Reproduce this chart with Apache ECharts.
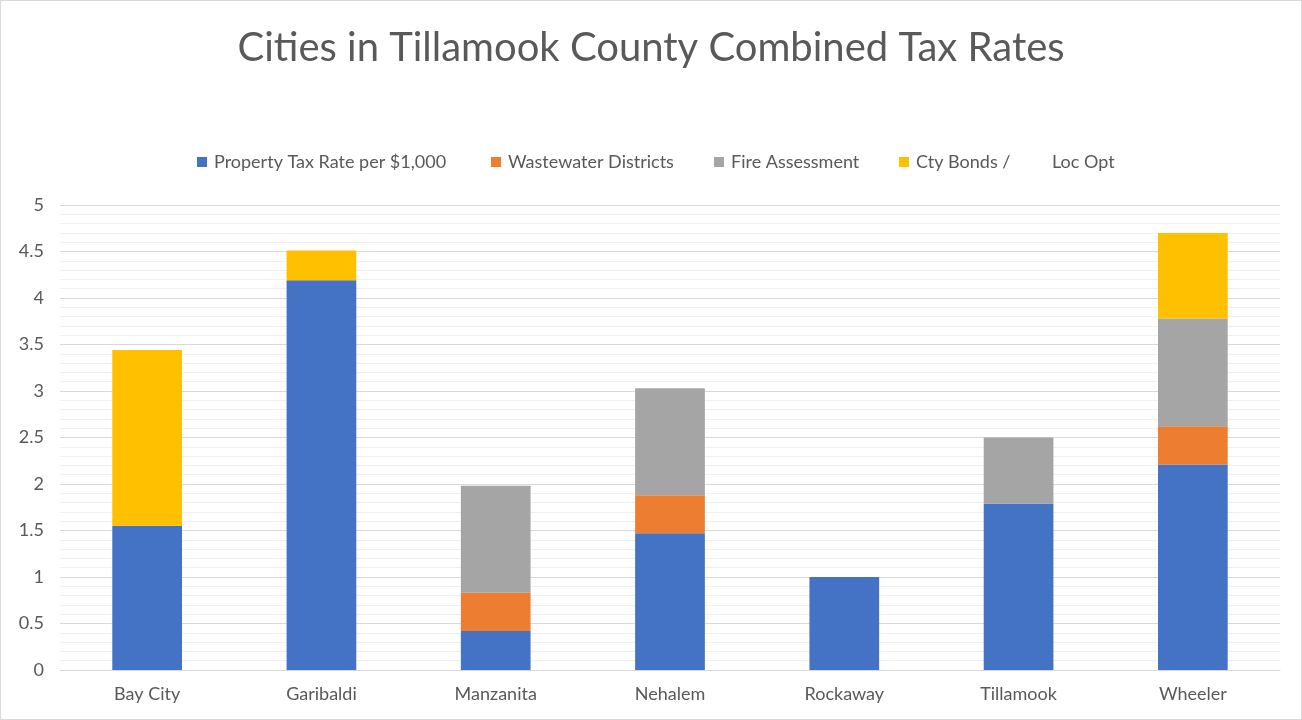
<!DOCTYPE html>
<html>
<head>
<meta charset="utf-8">
<script src="https://cdn.jsdelivr.net/npm/echarts@6/dist/echarts.min.js"></script>
<style>
  html, body { margin: 0; padding: 0; background: #fff; }
  #chart { width: 1300px; height: 718px; border: 1px solid #d9d9d9; }
</style>
</head>
<body>
<div id="chart"></div>
<script>
// Combined tax rates per $1,000 of assessed value, by city
const cities = ['Bay City', 'Garibaldi', 'Manzanita', 'Nehalem', 'Rockaway', 'Tillamook', 'Wheeler'];
const propertyTax = [1.55, 4.19, 0.42, 1.47, 1.0, 1.79, 2.21];
const wastewater  = [0, 0, 0.41, 0.41, 0, 0, 0.41];
const fireAssess  = [0, 0, 1.15, 1.15, 0, 0.71, 1.16];
const cityBonds   = [1.89, 0.32, 0, 0, 0, 0, 0.92];
const seriesNames = ['Property Tax Rate per $1,000', 'Wastewater Districts', 'Fire Assessment', 'Cty Bonds /         Loc Opt'];
const yTicks = [0, 0.5, 1, 1.5, 2, 2.5, 3, 3.5, 4, 4.5, 5];

const colors = ['#4472C4', '#ED7D31', '#A5A5A5', '#FFC000'];
const textColor = '#595959';
const font = 'Lato, "Open Sans", sans-serif';

const chart = echarts.init(document.getElementById('chart'));

// one legend block per series so each entry sits in its own column
const legendLefts = [191, 485, 708, 893];
const legends = seriesNames.map((n, i) => ({
  data: [n],
  left: legendLefts[i],
  top: 147,
  itemWidth: 10,
  itemHeight: 10,
  itemGap: 0,
  icon: 'rect',
  textStyle: { color: textColor, fontSize: 18, fontFamily: font, padding: [0, 0, 0, 2] },
  selectedMode: false
}));

const values = [propertyTax, wastewater, fireAssess, cityBonds];

chart.setOption({
  animation: false,
  color: colors,
  title: {
    text: 'Cities in Tillamook County Combined Tax Rates',
    left: 'center',
    top: 22,
    textStyle: { color: textColor, fontSize: 40, fontWeight: 'normal', fontFamily: font }
  },
  legend: legends,
  grid: { left: 59, right: 21, top: 204, bottom: 49 },
  xAxis: {
    type: 'category',
    data: cities,
    axisLine: { lineStyle: { color: '#d9d9d9', width: 1 } },
    axisTick: { show: false },
    axisLabel: { color: textColor, fontSize: 18, fontFamily: font, margin: 15 }
  },
  yAxis: {
    type: 'value',
    min: yTicks[0],
    max: yTicks[yTicks.length - 1],
    interval: 0.5,
    axisLine: { show: false },
    axisTick: { show: false },
    axisLabel: { color: textColor, fontSize: 18, fontFamily: font, margin: 16 },
    splitLine: { lineStyle: { color: '#d9d9d9', width: 1 } },
    minorTick: { show: false, splitNumber: 5 },
    minorSplitLine: { show: true, lineStyle: { color: '#f0f0f0', width: 1 } }
  },
  series: values.map((v, i) => ({
    name: seriesNames[i],
    type: 'bar',
    stack: 'total',
    data: v,
    barWidth: '40%',
    itemStyle: { color: colors[i] }
  }))
});
</script>
</body>
</html>
